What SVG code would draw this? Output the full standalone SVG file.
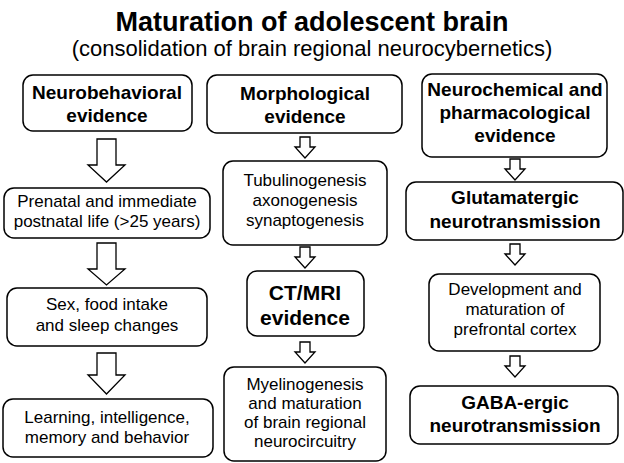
<svg xmlns="http://www.w3.org/2000/svg" width="624" height="463" viewBox="0 0 624 463">
<style>
text{font-family:"Liberation Sans",Arial,sans-serif;fill:#000;text-anchor:middle}
.b{fill:#fff;stroke:#000;stroke-width:1.5}
.a{fill:#fff;stroke:#000;stroke-width:1.3}
.t{font-size:17px}
.h{font-size:19px;font-weight:bold}
.hb{font-size:21px;font-weight:bold}
</style>
<rect width="624" height="463" fill="#fff"/>
<text x="312" y="31" style="font-size:27px;font-weight:bold">Maturation of adolescent brain</text>
<text x="312" y="56" style="font-size:22px">(consolidation of brain regional neurocybernetics)</text>
<g id="connectors">
<path class="a" d="M97,139H116V165H125L106.5,182L88,165H97Z"/>
<path class="a" d="M97,243H116V269H125L106.5,285L88,269H97Z"/>
<path class="a" d="M97,353H116V375H125L106.5,394L88,375H97Z"/>
<path class="a" d="M300,137H310V147H315L305,158L295,147H300Z"/>
<path class="a" d="M300,247H310V257H315L305,268L295,257H300Z"/>
<path class="a" d="M300,342H310V352H315L305,363L295,352H300Z"/>
<path class="a" d="M510,159H520V169H525L515,180L505,169H510Z"/>
<path class="a" d="M510,244H520V254H525L515,265L505,254H510Z"/>
<path class="a" d="M510,356H520V366H525L515,377L505,366H510Z"/>
</g>
<g id="n1"><rect class="b" x="23" y="75" width="169" height="56" rx="10"/><text class="h" x="107" y="99">Neurobehavioral</text><text class="h" x="107" y="122">evidence</text></g>
<g id="n2"><rect class="b" x="4" y="188" width="206" height="50" rx="10"/><text class="t" x="107" y="207">Prenatal and immediate</text><text class="t" x="107" y="227">postnatal life (&gt;25 years)</text></g>
<g id="n3"><rect class="b" x="7" y="288" width="200" height="58" rx="10"/><text class="t" x="107" y="310">Sex, food intake</text><text class="t" x="107" y="331">and sleep changes</text></g>
<g id="n4"><rect class="b" x="3" y="399" width="210" height="58" rx="10"/><text class="t" x="107" y="423">Learning, intelligence,</text><text class="t" x="107" y="443">memory and behavior</text></g>
<g id="n5"><rect class="b" x="207" y="75" width="195" height="58" rx="10"/><text class="h" x="305" y="100">Morphological</text><text class="h" x="305" y="123">evidence</text></g>
<g id="n6"><rect class="b" x="223" y="161" width="164" height="84" rx="10"/><text class="t" x="305" y="186">Tubulinogenesis</text><text class="t" x="305" y="206">axonogenesis</text><text class="t" x="305" y="226">synaptogenesis</text></g>
<g id="n7"><rect class="b" x="247" y="271" width="117" height="65" rx="10"/><text class="hb" x="305" y="300">CT/MRI</text><text class="hb" x="305" y="325">evidence</text></g>
<g id="n8"><rect class="b" x="224" y="367" width="162" height="94" rx="10"/><text class="t" x="305" y="390">Myelinogenesis</text><text class="t" x="305" y="409">and maturation</text><text class="t" x="305" y="428">of brain regional</text><text class="t" x="305" y="447">neurocircuitry</text></g>
<g id="n9"><rect class="b" x="422" y="74" width="185" height="83" rx="10"/><text class="h" x="515" y="96">Neurochemical and</text><text class="h" x="515" y="119">pharmacological</text><text class="h" x="515" y="142">evidence</text></g>
<g id="n10"><rect class="b" x="406" y="182" width="217" height="58" rx="10"/><text class="h" x="515" y="204">Glutamatergic</text><text class="h" x="515" y="228">neurotransmission</text></g>
<g id="n11"><rect class="b" x="429" y="274" width="171" height="77" rx="10"/><text class="t" x="515" y="295">Development and</text><text class="t" x="515" y="315">maturation of</text><text class="t" x="515" y="335">prefrontal cortex</text></g>
<g id="n12"><rect class="b" x="410" y="386" width="208" height="58" rx="10"/><text class="h" x="515" y="409">GABA-ergic</text><text class="h" x="515" y="432">neurotransmission</text></g>
</svg>
